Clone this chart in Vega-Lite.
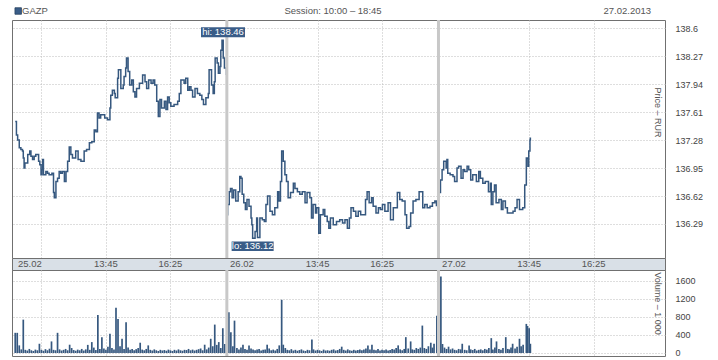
{
"$schema": "https://vega.github.io/schema/vega-lite/v6.json",
"padding": {"left": 11, "top": 0, "right": 0, "bottom": 0},
"background": "white",
"spacing": 0,
"bounds": "flush",
"config": {
 "font": "Liberation Sans",
 "view": {"stroke": "#707070", "strokeWidth": 1},
 "axis": {"gridColor": "#bdbdbd", "gridDash": [1, 2], "gridWidth": 1, "domain": false, "ticks": false, "labelColor": "#444", "labelFontSize": 9, "labelOverlap": false, "titleFontWeight": "normal", "titleColor": "#555", "titleFontSize": 9},
 "concat": {"spacing": 0}
},
"datasets": {
 "price": [
  {"d":1,"t":0,"p":137.50},{"d":1,"t":3,"p":137.34},{"d":1,"t":6,"p":137.28},{"d":1,"t":10,"p":137.19},{"d":1,"t":14,"p":137.17},{"d":1,"t":18,"p":137.15},{"d":1,"t":20,"p":137.07},{"d":1,"t":22,"p":136.95},{"d":1,"t":24,"p":137.01},{"d":1,"t":31,"p":137.11},{"d":1,"t":36,"p":137.15},{"d":1,"t":39,"p":137.09},{"d":1,"t":43,"p":137.05},{"d":1,"t":47,"p":137.09},{"d":1,"t":51,"p":137.11},{"d":1,"t":58,"p":137.03},{"d":1,"t":61,"p":136.99},{"d":1,"t":64,"p":136.87},{"d":1,"t":66,"p":136.93},{"d":1,"t":68,"p":137.05},{"d":1,"t":70,"p":136.87},{"d":1,"t":76,"p":136.91},{"d":1,"t":80,"p":136.89},{"d":1,"t":84,"p":136.87},{"d":1,"t":91,"p":136.89},{"d":1,"t":95,"p":136.66},{"d":1,"t":97,"p":136.60},{"d":1,"t":101,"p":136.79},{"d":1,"t":105,"p":136.83},{"d":1,"t":109,"p":136.91},{"d":1,"t":113,"p":136.89},{"d":1,"t":117,"p":136.91},{"d":1,"t":122,"p":136.79},{"d":1,"t":126,"p":136.91},{"d":1,"t":130,"p":137.03},{"d":1,"t":134,"p":137.20},{"d":1,"t":138,"p":137.11},{"d":1,"t":142,"p":137.07},{"d":1,"t":150,"p":137.15},{"d":1,"t":156,"p":137.05},{"d":1,"t":163,"p":137.03},{"d":1,"t":171,"p":137.15},{"d":1,"t":177,"p":137.17},{"d":1,"t":184,"p":137.25},{"d":1,"t":190,"p":137.26},{"d":1,"t":196,"p":137.40},{"d":1,"t":200,"p":137.38},{"d":1,"t":204,"p":137.60},{"d":1,"t":208,"p":137.54},{"d":1,"t":212,"p":137.58},{"d":1,"t":222,"p":137.54},{"d":1,"t":229,"p":137.52},{"d":1,"t":235,"p":137.66},{"d":1,"t":237,"p":137.81},{"d":1,"t":241,"p":137.87},{"d":1,"t":246,"p":137.83},{"d":1,"t":248,"p":137.78},{"d":1,"t":254,"p":138.01},{"d":1,"t":256,"p":138.11},{"d":1,"t":262,"p":137.89},{"d":1,"t":268,"p":137.93},{"d":1,"t":270,"p":138.03},{"d":1,"t":274,"p":138.13},{"d":1,"t":276,"p":138.25},{"d":1,"t":280,"p":138.09},{"d":1,"t":284,"p":137.93},{"d":1,"t":289,"p":137.99},{"d":1,"t":293,"p":137.85},{"d":1,"t":297,"p":137.79},{"d":1,"t":301,"p":137.89},{"d":1,"t":308,"p":137.95},{"d":1,"t":316,"p":138.05},{"d":1,"t":322,"p":137.97},{"d":1,"t":326,"p":137.89},{"d":1,"t":331,"p":137.99},{"d":1,"t":337,"p":137.95},{"d":1,"t":342,"p":137.99},{"d":1,"t":346,"p":137.93},{"d":1,"t":351,"p":137.74},{"d":1,"t":355,"p":137.56},{"d":1,"t":359,"p":137.76},{"d":1,"t":363,"p":137.66},{"d":1,"t":370,"p":137.74},{"d":1,"t":374,"p":137.64},{"d":1,"t":378,"p":137.79},{"d":1,"t":382,"p":137.72},{"d":1,"t":386,"p":137.68},{"d":1,"t":394,"p":137.70},{"d":1,"t":403,"p":137.74},{"d":1,"t":407,"p":137.83},{"d":1,"t":411,"p":137.99},{"d":1,"t":419,"p":137.95},{"d":1,"t":423,"p":138.01},{"d":1,"t":428,"p":137.87},{"d":1,"t":432,"p":137.91},{"d":1,"t":436,"p":137.87},{"d":1,"t":440,"p":137.79},{"d":1,"t":446,"p":137.89},{"d":1,"t":452,"p":137.83},{"d":1,"t":458,"p":137.81},{"d":1,"t":463,"p":137.76},{"d":1,"t":467,"p":137.70},{"d":1,"t":473,"p":137.78},{"d":1,"t":479,"p":137.83},{"d":1,"t":481,"p":138.11},{"d":1,"t":487,"p":137.93},{"d":1,"t":491,"p":137.83},{"d":1,"t":494,"p":137.97},{"d":1,"t":496,"p":138.25},{"d":1,"t":501,"p":138.19},{"d":1,"t":504,"p":138.07},{"d":1,"t":508,"p":138.15},{"d":1,"t":510,"p":138.34},{"d":1,"t":513,"p":138.46},{"d":1,"t":516,"p":138.25},{"d":1,"t":519,"p":138.13},{"d":1,"t":524,"p":138.05},
  {"d":2,"t":525,"p":136.40},{"d":2,"t":527,"p":136.52},{"d":2,"t":531,"p":136.67},{"d":2,"t":534,"p":136.71},{"d":2,"t":538,"p":136.60},{"d":2,"t":542,"p":136.69},{"d":2,"t":547,"p":136.56},{"d":2,"t":553,"p":136.67},{"d":2,"t":557,"p":136.85},{"d":2,"t":560,"p":136.83},{"d":2,"t":563,"p":136.64},{"d":2,"t":567,"p":136.54},{"d":2,"t":571,"p":136.46},{"d":2,"t":575,"p":136.58},{"d":2,"t":580,"p":136.50},{"d":2,"t":585,"p":136.36},{"d":2,"t":587,"p":136.28},{"d":2,"t":589,"p":136.12},{"d":2,"t":595,"p":136.20},{"d":2,"t":599,"p":136.36},{"d":2,"t":601,"p":136.13},{"d":2,"t":607,"p":136.36},{"d":2,"t":613,"p":136.34},{"d":2,"t":618,"p":136.32},{"d":2,"t":622,"p":136.52},{"d":2,"t":626,"p":136.62},{"d":2,"t":632,"p":136.44},{"d":2,"t":638,"p":136.40},{"d":2,"t":644,"p":136.48},{"d":2,"t":651,"p":136.67},{"d":2,"t":654,"p":136.56},{"d":2,"t":658,"p":136.79},{"d":2,"t":661,"p":137.15},{"d":2,"t":665,"p":137.03},{"d":2,"t":669,"p":136.87},{"d":2,"t":673,"p":136.79},{"d":2,"t":677,"p":136.60},{"d":2,"t":683,"p":136.66},{"d":2,"t":690,"p":136.77},{"d":2,"t":694,"p":136.71},{"d":2,"t":700,"p":136.67},{"d":2,"t":706,"p":136.64},{"d":2,"t":712,"p":136.67},{"d":2,"t":719,"p":136.54},{"d":2,"t":724,"p":136.66},{"d":2,"t":731,"p":136.60},{"d":2,"t":735,"p":136.36},{"d":2,"t":739,"p":136.52},{"d":2,"t":745,"p":136.42},{"d":2,"t":748,"p":136.48},{"d":2,"t":753,"p":136.18},{"d":2,"t":757,"p":136.40},{"d":2,"t":764,"p":136.46},{"d":2,"t":768,"p":136.38},{"d":2,"t":774,"p":136.32},{"d":2,"t":778,"p":136.24},{"d":2,"t":782,"p":136.36},{"d":2,"t":789,"p":136.28},{"d":2,"t":797,"p":136.32},{"d":2,"t":805,"p":136.34},{"d":2,"t":812,"p":136.30},{"d":2,"t":818,"p":136.34},{"d":2,"t":824,"p":136.24},{"d":2,"t":829,"p":136.36},{"d":2,"t":833,"p":136.48},{"d":2,"t":839,"p":136.44},{"d":2,"t":845,"p":136.38},{"d":2,"t":851,"p":136.44},{"d":2,"t":857,"p":136.40},{"d":2,"t":863,"p":136.40},{"d":2,"t":869,"p":136.58},{"d":2,"t":873,"p":136.67},{"d":2,"t":878,"p":136.54},{"d":2,"t":884,"p":136.60},{"d":2,"t":888,"p":136.50},{"d":2,"t":895,"p":136.42},{"d":2,"t":901,"p":136.48},{"d":2,"t":906,"p":136.46},{"d":2,"t":911,"p":136.52},{"d":2,"t":917,"p":136.44},{"d":2,"t":925,"p":136.54},{"d":2,"t":931,"p":136.34},{"d":2,"t":938,"p":136.48},{"d":2,"t":948,"p":136.66},{"d":2,"t":954,"p":136.58},{"d":2,"t":960,"p":136.56},{"d":2,"t":967,"p":136.40},{"d":2,"t":971,"p":136.24},{"d":2,"t":977,"p":136.26},{"d":2,"t":981,"p":136.42},{"d":2,"t":987,"p":136.56},{"d":2,"t":994,"p":136.58},{"d":2,"t":1002,"p":136.67},{"d":2,"t":1011,"p":136.48},{"d":2,"t":1016,"p":136.52},{"d":2,"t":1022,"p":136.48},{"d":2,"t":1029,"p":136.50},{"d":2,"t":1035,"p":136.54},{"d":2,"t":1041,"p":136.56},{"d":2,"t":1045,"p":136.50},
  {"d":3,"t":1050,"p":136.66},{"d":3,"t":1055,"p":136.81},{"d":3,"t":1059,"p":136.93},{"d":3,"t":1063,"p":137.03},{"d":3,"t":1069,"p":136.95},{"d":3,"t":1071,"p":137.05},{"d":3,"t":1073,"p":136.89},{"d":3,"t":1079,"p":136.87},{"d":3,"t":1086,"p":136.85},{"d":3,"t":1090,"p":136.79},{"d":3,"t":1096,"p":136.95},{"d":3,"t":1100,"p":136.97},{"d":3,"t":1106,"p":136.83},{"d":3,"t":1111,"p":136.93},{"d":3,"t":1115,"p":136.91},{"d":3,"t":1121,"p":136.97},{"d":3,"t":1125,"p":136.93},{"d":3,"t":1130,"p":136.81},{"d":3,"t":1135,"p":136.87},{"d":3,"t":1144,"p":136.79},{"d":3,"t":1150,"p":136.91},{"d":3,"t":1154,"p":136.83},{"d":3,"t":1160,"p":136.77},{"d":3,"t":1166,"p":136.79},{"d":3,"t":1174,"p":136.67},{"d":3,"t":1179,"p":136.77},{"d":3,"t":1181,"p":136.52},{"d":3,"t":1185,"p":136.67},{"d":3,"t":1189,"p":136.75},{"d":3,"t":1193,"p":136.54},{"d":3,"t":1200,"p":136.58},{"d":3,"t":1206,"p":136.46},{"d":3,"t":1210,"p":136.56},{"d":3,"t":1216,"p":136.48},{"d":3,"t":1221,"p":136.42},{"d":3,"t":1229,"p":136.42},{"d":3,"t":1235,"p":136.44},{"d":3,"t":1240,"p":136.48},{"d":3,"t":1245,"p":136.58},{"d":3,"t":1251,"p":136.46},{"d":3,"t":1259,"p":136.48},{"d":3,"t":1264,"p":136.75},{"d":3,"t":1268,"p":137.07},{"d":3,"t":1272,"p":136.97},{"d":3,"t":1274,"p":137.15},{"d":3,"t":1277,"p":137.28},{"d":3,"t":1278,"p":137.31}
 ],
 "vol": [
  {"t":0,"v":448},{"t":5,"v":448},{"t":10,"v":169},{"t":15,"v":80},{"t":20,"v":741},{"t":25,"v":70},{"t":30,"v":55},{"t":35,"v":90},{"t":40,"v":60},{"t":45,"v":45},{"t":50,"v":75},{"t":55,"v":60},{"t":60,"v":205},{"t":65,"v":70},{"t":70,"v":50},{"t":75,"v":85},{"t":80,"v":60},{"t":85,"v":95},{"t":90,"v":257},{"t":95,"v":70},{"t":100,"v":60},{"t":105,"v":448},{"t":110,"v":80},{"t":115,"v":55},{"t":120,"v":70},{"t":125,"v":90},{"t":130,"v":60},{"t":135,"v":184},{"t":140,"v":110},{"t":145,"v":65},{"t":150,"v":50},{"t":155,"v":75},{"t":160,"v":60},{"t":165,"v":90},{"t":170,"v":55},{"t":175,"v":80},{"t":180,"v":180},{"t":185,"v":70},{"t":190,"v":242},{"t":195,"v":120},{"t":200,"v":65},{"t":205,"v":844},{"t":210,"v":90},{"t":215,"v":352},{"t":220,"v":100},{"t":225,"v":70},{"t":230,"v":140},{"t":235,"v":426},{"t":240,"v":110},{"t":245,"v":80},{"t":250,"v":1006},{"t":255,"v":756},{"t":260,"v":150},{"t":265,"v":316},{"t":270,"v":90},{"t":275,"v":683},{"t":280,"v":120},{"t":285,"v":70},{"t":290,"v":90},{"t":295,"v":60},{"t":300,"v":85},{"t":305,"v":110},{"t":310,"v":228},{"t":315,"v":75},{"t":320,"v":60},{"t":325,"v":90},{"t":330,"v":169},{"t":335,"v":70},{"t":340,"v":55},{"t":345,"v":80},{"t":350,"v":60},{"t":355,"v":45},{"t":360,"v":70},{"t":365,"v":55},{"t":370,"v":65},{"t":375,"v":50},{"t":380,"v":75},{"t":385,"v":60},{"t":390,"v":45},{"t":395,"v":70},{"t":400,"v":55},{"t":405,"v":80},{"t":410,"v":60},{"t":415,"v":50},{"t":420,"v":70},{"t":425,"v":65},{"t":430,"v":90},{"t":435,"v":60},{"t":440,"v":75},{"t":445,"v":55},{"t":450,"v":70},{"t":455,"v":85},{"t":460,"v":100},{"t":465,"v":60},{"t":470,"v":184},{"t":475,"v":80},{"t":480,"v":120},{"t":485,"v":316},{"t":490,"v":150},{"t":495,"v":631},{"t":500,"v":180},{"t":505,"v":242},{"t":510,"v":110},{"t":515,"v":550},{"t":520,"v":200},
  {"t":526,"v":668},{"t":530,"v":903},{"t":535,"v":462},{"t":540,"v":150},{"t":544,"v":719},{"t":550,"v":110},{"t":555,"v":80},{"t":560,"v":120},{"t":565,"v":184},{"t":570,"v":90},{"t":575,"v":70},{"t":580,"v":169},{"t":585,"v":100},{"t":590,"v":80},{"t":595,"v":60},{"t":600,"v":75},{"t":605,"v":90},{"t":610,"v":55},{"t":615,"v":70},{"t":620,"v":80},{"t":625,"v":184},{"t":630,"v":100},{"t":635,"v":60},{"t":640,"v":75},{"t":645,"v":55},{"t":650,"v":90},{"t":655,"v":169},{"t":661,"v":1182},{"t":665,"v":184},{"t":670,"v":110},{"t":675,"v":70},{"t":680,"v":60},{"t":685,"v":85},{"t":690,"v":55},{"t":695,"v":70},{"t":700,"v":50},{"t":705,"v":65},{"t":710,"v":80},{"t":715,"v":55},{"t":720,"v":45},{"t":725,"v":70},{"t":730,"v":60},{"t":736,"v":301},{"t":740,"v":80},{"t":745,"v":55},{"t":750,"v":70},{"t":755,"v":60},{"t":760,"v":45},{"t":765,"v":75},{"t":770,"v":55},{"t":775,"v":60},{"t":780,"v":50},{"t":785,"v":70},{"t":790,"v":80},{"t":795,"v":55},{"t":800,"v":65},{"t":805,"v":90},{"t":810,"v":140},{"t":815,"v":70},{"t":820,"v":55},{"t":825,"v":80},{"t":830,"v":60},{"t":835,"v":50},{"t":840,"v":70},{"t":845,"v":55},{"t":850,"v":65},{"t":855,"v":80},{"t":860,"v":60},{"t":865,"v":75},{"t":870,"v":100},{"t":875,"v":169},{"t":880,"v":80},{"t":885,"v":184},{"t":890,"v":70},{"t":895,"v":60},{"t":900,"v":90},{"t":905,"v":55},{"t":910,"v":70},{"t":915,"v":60},{"t":920,"v":80},{"t":925,"v":55},{"t":930,"v":65},{"t":935,"v":90},{"t":940,"v":75},{"t":945,"v":110},{"t":950,"v":169},{"t":955,"v":80},{"t":960,"v":60},{"t":965,"v":90},{"t":969,"v":352},{"t":975,"v":100},{"t":981,"v":257},{"t":985,"v":80},{"t":990,"v":70},{"t":995,"v":110},{"t":1000,"v":90},{"t":1005,"v":120},{"t":1010,"v":609},{"t":1015,"v":110},{"t":1020,"v":90},{"t":1025,"v":150},{"t":1031,"v":228},{"t":1035,"v":120},{"t":1039,"v":205},{"t":1046,"v":829},
  {"t":1050,"v":180},{"t":1056,"v":1700},{"t":1060,"v":200},{"t":1065,"v":120},{"t":1070,"v":90},{"t":1075,"v":140},{"t":1080,"v":80},{"t":1085,"v":100},{"t":1090,"v":70},{"t":1095,"v":60},{"t":1100,"v":90},{"t":1105,"v":80},{"t":1109,"v":205},{"t":1115,"v":70},{"t":1120,"v":60},{"t":1126,"v":169},{"t":1130,"v":80},{"t":1135,"v":65},{"t":1140,"v":90},{"t":1145,"v":55},{"t":1150,"v":70},{"t":1155,"v":80},{"t":1160,"v":60},{"t":1165,"v":90},{"t":1170,"v":75},{"t":1175,"v":110},{"t":1181,"v":330},{"t":1185,"v":80},{"t":1190,"v":120},{"t":1194,"v":257},{"t":1200,"v":90},{"t":1205,"v":70},{"t":1210,"v":110},{"t":1217,"v":352},{"t":1222,"v":90},{"t":1226,"v":80},{"t":1230,"v":120},{"t":1234,"v":205},{"t":1240,"v":100},{"t":1245,"v":140},{"t":1251,"v":316},{"t":1255,"v":150},{"t":1260,"v":184},{"t":1268,"v":646},{"t":1271,"v":600},{"t":1275,"v":550},{"t":1278,"v":205}
 ],
 "labels": [
  {"t":7,"label":"25.02","kind":"date"},{"t":225,"label":"13:45","kind":"time"},{"t":385,"label":"16:25","kind":"time"},
  {"t":533,"label":"26.02","kind":"date"},{"t":750,"label":"13:45","kind":"time"},{"t":910,"label":"16:25","kind":"time"},
  {"t":1059,"label":"27.02","kind":"date"},{"t":1275,"label":"13:45","kind":"time"},{"t":1435,"label":"16:25","kind":"time"}
 ],
 "sep": [{"t":525},{"t":1050}],
 "hilo": [{"kind":"hi","t":513,"p":138.46,"label":"hi: 138.46"},{"kind":"lo","t":589,"p":136.12,"label":"lo: 136.12"}]
},
"vconcat": [
 {
  "width": 653, "height": 20,
  "view": {"stroke": null},
  "layer": [
   {"data": {"values": [{"pos": 0.0095}]}, "mark": {"type": "square", "size": 42, "color": "#3a5d88", "opacity": 1, "yOffset": 1, "stroke": "#27415f", "strokeWidth": 0.8},
    "encoding": {"x": {"field": "pos", "type": "quantitative", "scale": {"domain": [0, 1], "nice": false, "zero": false}, "axis": null}}},
   {"data": {"values": [{"pos": 0.0153, "txt": "GAZP"}]}, "mark": {"type": "text", "align": "left", "baseline": "middle", "fontSize": 9.5, "color": "#555", "yOffset": 1},
    "encoding": {"x": {"field": "pos", "type": "quantitative"}, "text": {"field": "txt"}}},
   {"data": {"values": [{"pos": 0.4916, "txt": "Session: 10:00 – 18:45"}]}, "mark": {"type": "text", "align": "center", "baseline": "middle", "fontSize": 9.5, "color": "#555", "yOffset": 1},
    "encoding": {"x": {"field": "pos", "type": "quantitative"}, "text": {"field": "txt"}}},
   {"data": {"values": [{"pos": 0.9786, "txt": "27.02.2013"}]}, "mark": {"type": "text", "align": "right", "baseline": "middle", "fontSize": 9.5, "color": "#555", "yOffset": 1},
    "encoding": {"x": {"field": "pos", "type": "quantitative"}, "text": {"field": "txt"}}}
  ]
 },
 {
  "width": 653, "height": 238,
  "layer": [
   {"data": {"name": "price"}, "mark": {"type": "line", "interpolate": "step-after", "color": "#36587f", "strokeWidth": 1.5},
    "encoding": {
     "x": {"field": "t", "type": "quantitative", "scale": {"domain": [-8, 1612], "nice": false, "zero": false},
      "axis": {"values": [65, 225, 385, 750, 910, 1275, 1435], "tickCount": 20, "labels": false, "ticks": false, "domain": false, "grid": true, "title": null}},
     "y": {"field": "p", "type": "quantitative", "scale": {"domain": [135.888, 138.698], "nice": false, "zero": false},
      "axis": {"orient": "right", "values": [136.29, 136.62, 136.95, 137.28, 137.61, 137.94, 138.27, 138.6], "tickCount": 20, "format": ".2~f", "labelOverlap": false, "labelBound": false, "labelPadding": 10, "title": "Price – RUR", "titleAngle": 90, "titleX": -8, "titleY": 92, "titleAlign": "center", "titleBaseline": "middle"}},
     "detail": {"field": "d"}
    }},
   {"data": {"name": "sep"}, "mark": {"type": "rule", "color": "#c8c8c8", "strokeWidth": 3}, "encoding": {"x": {"field": "t", "type": "quantitative"}}},
   {"data": {"name": "hilo"}, "transform": [{"filter": "datum.kind == 'hi'"}], "mark": {"type": "point", "shape": "M-1,-0.227L1,-0.227L1,0.227L-1,0.227Z", "filled": true, "size": 1936, "color": "#3a5d88", "opacity": 1, "xOffset": 1, "yOffset": -8},
    "encoding": {"x": {"field": "t", "type": "quantitative"}, "y": {"field": "p", "type": "quantitative"}}},
   {"data": {"name": "hilo"}, "transform": [{"filter": "datum.kind == 'hi'"}], "mark": {"type": "text", "color": "white", "fontSize": 9.5, "align": "center", "baseline": "middle", "xOffset": 1, "yOffset": -8},
    "encoding": {"x": {"field": "t", "type": "quantitative"}, "y": {"field": "p", "type": "quantitative"}, "text": {"field": "label"}}},
   {"data": {"name": "hilo"}, "transform": [{"filter": "datum.kind == 'lo'"}], "mark": {"type": "point", "shape": "M-1,-0.227L1,-0.227L1,0.227L-1,0.227Z", "filled": true, "size": 1764, "color": "#3a5d88", "opacity": 1, "xOffset": 0, "yOffset": 8},
    "encoding": {"x": {"field": "t", "type": "quantitative"}, "y": {"field": "p", "type": "quantitative"}}},
   {"data": {"name": "hilo"}, "transform": [{"filter": "datum.kind == 'lo'"}], "mark": {"type": "text", "color": "white", "fontSize": 9.5, "align": "center", "baseline": "middle", "xOffset": 0, "yOffset": 8},
    "encoding": {"x": {"field": "t", "type": "quantitative"}, "y": {"field": "p", "type": "quantitative"}, "text": {"field": "label"}}}
  ]
 },
 {
  "width": 653, "height": 12,
  "view": {"fill": "#d9e0e7", "stroke": "#707070"},
  "layer": [
   {"data": {"name": "labels"}, "transform": [{"filter": "datum.kind == 'date'"}], "mark": {"type": "text", "align": "left", "baseline": "middle", "fontSize": 9.5, "color": "#555"},
    "encoding": {"x": {"field": "t", "type": "quantitative", "scale": {"domain": [-8, 1612], "nice": false, "zero": false}, "axis": null}, "text": {"field": "label"}}},
   {"data": {"name": "labels"}, "transform": [{"filter": "datum.kind == 'time'"}], "mark": {"type": "text", "align": "center", "baseline": "middle", "fontSize": 9.5, "color": "#555"},
    "encoding": {"x": {"field": "t", "type": "quantitative"}, "text": {"field": "label"}}}
  ]
 },
 {
  "width": 653, "height": 86,
  "layer": [
   {"data": {"name": "vol"}, "mark": {"type": "rule", "color": "#36587f", "strokeWidth": 1.7},
    "encoding": {
     "x": {"field": "t", "type": "quantitative", "scale": {"domain": [-8, 1612], "nice": false, "zero": false},
      "axis": {"values": [65, 225, 385, 750, 910, 1275, 1435], "tickCount": 20, "labels": false, "ticks": false, "domain": false, "grid": true, "title": null}},
     "y": {"field": "v", "type": "quantitative", "scale": {"domain": [-67, 1844], "nice": false, "zero": false},
      "axis": {"orient": "right", "values": [0, 400, 800, 1200, 1600], "tickCount": 20, "format": "d", "labelOverlap": false, "labelBound": false, "labelPadding": 10, "title": "Volume – 1 000", "titleAngle": 90, "titleX": -8, "titleY": 33, "titleAlign": "center", "titleBaseline": "middle"}},
     "y2": {"datum": 0}
    }},
   {"data": {"name": "sep"}, "mark": {"type": "rule", "color": "#c8c8c8", "strokeWidth": 3}, "encoding": {"x": {"field": "t", "type": "quantitative"}}}
  ]
 }
]
}
